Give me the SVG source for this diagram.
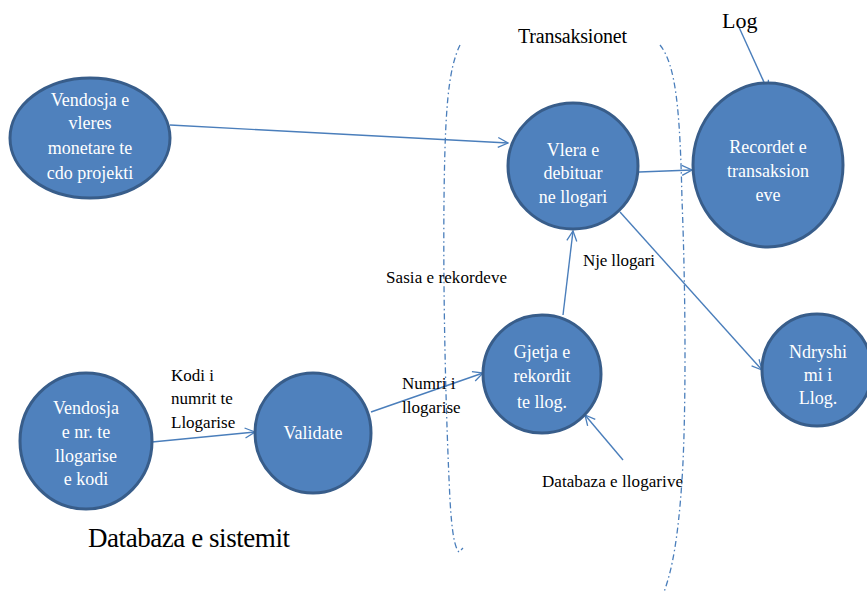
<svg xmlns="http://www.w3.org/2000/svg" width="867" height="594" viewBox="0 0 867 594">
<defs>
<marker id="arr" viewBox="0 0 12 12" refX="11" refY="6" markerWidth="12" markerHeight="12" markerUnits="userSpaceOnUse" orient="auto">
<path d="M1,1 L11,6 L1,11" fill="none" stroke="#4A7EBB" stroke-width="1.3"/>
</marker>
<style>
.node{fill:#4F81BD;stroke:#385D8A;stroke-width:3}
.nt{fill:#FFFFFF;text-anchor:middle}
.lbl{fill:#000000}
.edge{fill:none;stroke:#4A7EBB;stroke-width:1.4;marker-end:url(#arr)}
.bracket{fill:none;stroke:#4A7EBB;stroke-width:1.3;stroke-dasharray:6 3 1.5 3}
</style>
</defs>
<rect width="867" height="594" fill="#FFFFFF"/>
<g id="brackets">
<path class="bracket" d="M460,45 C448,70 445,110 444,200 C443,300 446,420 450,500 C452,535 455,548 459,552 L463,548"/>
<path class="bracket" d="M660,45 C676,65 680,110 682,200 C686,300 686,420 682,480 C678,540 672,570 664,592"/>
</g>
<g id="connectors">
<line class="edge" x1="170" y1="125" x2="508" y2="143"/>
<line class="edge" x1="639" y1="172" x2="692" y2="170"/>
<line class="edge" x1="738" y1="25" x2="768" y2="91"/>
<line class="edge" x1="620" y1="212" x2="762" y2="370"/>
<line class="edge" x1="563" y1="315" x2="573" y2="231"/>
<line class="edge" x1="152" y1="442" x2="255" y2="432"/>
<line class="edge" x1="371" y1="412" x2="483" y2="373"/>
<line class="edge" x1="623" y1="460" x2="585" y2="415"/>
</g>
<g id="n-vendosja-vleres">
<ellipse class="node" cx="90" cy="138" rx="80" ry="60"/>
<text class="nt" font-family="Liberation Serif" font-size="18" x="90" y="106">Vendosja e</text>
<text class="nt" font-family="Liberation Serif" font-size="18" x="90" y="129">vleres</text>
<text class="nt" font-family="Liberation Serif" font-size="18" x="90" y="154">monetare te</text>
<text class="nt" font-family="Liberation Serif" font-size="18" x="90" y="179">cdo projekti</text>
</g>
<g id="n-vlera">
<ellipse class="node" cx="573" cy="166" rx="65" ry="63"/>
<text class="nt" font-family="Liberation Serif" font-size="18" x="573" y="156">Vlera e</text>
<text class="nt" font-family="Liberation Serif" font-size="18" x="573" y="179">debituar</text>
<text class="nt" font-family="Liberation Serif" font-size="18" x="573" y="203">ne llogari</text>
</g>
<g id="n-recordet">
<ellipse class="node" cx="768" cy="165" rx="75" ry="82"/>
<text class="nt" font-family="Liberation Serif" font-size="18" x="768" y="153">Recordet e</text>
<text class="nt" font-family="Liberation Serif" font-size="18" x="768" y="177">transaksion</text>
<text class="nt" font-family="Liberation Serif" font-size="18" x="768" y="201">eve</text>
</g>
<g id="n-vendosja-nr">
<ellipse class="node" cx="86" cy="441" rx="66" ry="68"/>
<text class="nt" font-family="Liberation Serif" font-size="18" x="86" y="414">Vendosja</text>
<text class="nt" font-family="Liberation Serif" font-size="18" x="86" y="438">e nr. te</text>
<text class="nt" font-family="Liberation Serif" font-size="18" x="86" y="462">llogarise</text>
<text class="nt" font-family="Liberation Serif" font-size="18" x="86" y="485">e kodi</text>
</g>
<g id="n-validate">
<ellipse class="node" cx="313" cy="433" rx="58" ry="60"/>
<text class="nt" font-family="Liberation Serif" font-size="18" x="313" y="439">Validate</text>
</g>
<g id="n-gjetja">
<ellipse class="node" cx="542" cy="374" rx="59" ry="59"/>
<text class="nt" font-family="Liberation Serif" font-size="18" x="542" y="358">Gjetja e</text>
<text class="nt" font-family="Liberation Serif" font-size="18" x="542" y="382">rekordit</text>
<text class="nt" font-family="Liberation Serif" font-size="18" x="542" y="408">te llog.</text>
</g>
<g id="n-ndryshimi">
<ellipse class="node" cx="817" cy="370" rx="55" ry="56"/>
<text class="nt" font-family="Liberation Serif" font-size="18" x="818" y="358">Ndryshi</text>
<text class="nt" font-family="Liberation Serif" font-size="18" x="818" y="381">mi i</text>
<text class="nt" font-family="Liberation Serif" font-size="18" x="818" y="404">Llog.</text>
</g>
<g id="labels">
<text class="lbl" font-family="Liberation Serif" font-size="20" x="518" y="43" textLength="109">Transaksionet</text>
<text class="lbl" font-family="Liberation Serif" font-size="22" x="722" y="28">Log</text>
<text class="lbl" font-family="Liberation Serif" font-size="17" x="386" y="283" textLength="121">Sasia e rekordeve</text>
<text class="lbl" font-family="Liberation Serif" font-size="17" x="583" y="266" textLength="72">Nje llogari</text>
<text class="lbl" font-family="Liberation Serif" font-size="17" x="402" y="389">Numri i</text>
<text class="lbl" font-family="Liberation Serif" font-size="17" x="402" y="413">llogarise</text>
<text class="lbl" font-family="Liberation Serif" font-size="17" x="171" y="381">Kodi i</text>
<text class="lbl" font-family="Liberation Serif" font-size="17" x="171" y="404">numrit te</text>
<text class="lbl" font-family="Liberation Serif" font-size="17" x="171" y="428">Llogarise</text>
<text class="lbl" font-family="Liberation Serif" font-size="17" x="542" y="487" textLength="141">Databaza e llogarive</text>
<text class="lbl" font-family="Liberation Serif" font-size="27" x="88" y="547" textLength="202">Databaza e sistemit</text>
</g>
</svg>
